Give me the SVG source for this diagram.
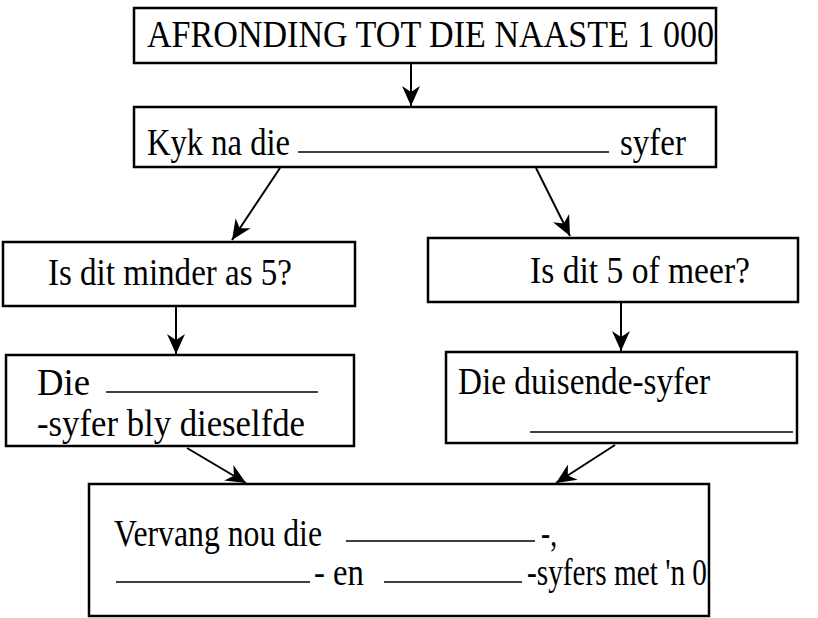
<svg xmlns="http://www.w3.org/2000/svg" width="818" height="618" viewBox="0 0 818 618">
<style>
.box{fill:#fff;stroke:#000;stroke-width:2.5}
.t{font-family:"Liberation Serif","Times New Roman",serif;font-size:38px;fill:#000}
.ul{stroke:#000;stroke-width:1.7}
.c{stroke:#000;stroke-width:2;fill:none;marker-end:url(#ah)}
</style>
<defs>
<marker id="ah" markerUnits="userSpaceOnUse" markerWidth="24" markerHeight="22" viewBox="-22 -11 24 22" refX="0" refY="0" orient="auto">
<path d="M0,0 L-20,-9 L-14,0 L-20,9 Z" fill="#000"/>
</marker>
</defs>
<rect width="818" height="618" fill="#fff"/>
<g id="connectors">
<line class="c" x1="411" y1="63" x2="411" y2="106"/>
<line class="c" x1="280" y1="168" x2="232" y2="240"/>
<line class="c" x1="536" y1="168" x2="570" y2="236"/>
<line class="c" x1="176" y1="306" x2="176" y2="354"/>
<line class="c" x1="621" y1="302" x2="621" y2="351"/>
<line class="c" x1="187" y1="448" x2="246" y2="483"/>
<line class="c" x1="615" y1="445" x2="556" y2="483"/>
</g>
<g id="title">
<rect class="box" x="134" y="8" width="582" height="55"/>
<text class="t" x="147" y="47" textLength="567" lengthAdjust="spacingAndGlyphs">AFRONDING TOT DIE NAASTE 1 000</text>
</g>
<g id="look">
<rect class="box" x="134" y="107" width="582" height="60"/>
<text class="t" x="147" y="155" textLength="143" lengthAdjust="spacingAndGlyphs">Kyk na die</text>
<line class="ul" x1="298" y1="152" x2="609" y2="152"/>
<text class="t" x="620" y="155" textLength="66" lengthAdjust="spacingAndGlyphs">syfer</text>
</g>
<g id="less">
<rect class="box" x="3" y="242" width="352" height="64"/>
<text class="t" x="48" y="285" textLength="244" lengthAdjust="spacingAndGlyphs">Is dit minder as 5?</text>
</g>
<g id="more">
<rect class="box" x="428" y="238" width="370" height="64"/>
<text class="t" x="530" y="283" textLength="220" lengthAdjust="spacingAndGlyphs">Is dit 5 of meer?</text>
</g>
<g id="same">
<rect class="box" x="6" y="355" width="348" height="91"/>
<text class="t" x="37" y="395" textLength="53" lengthAdjust="spacingAndGlyphs">Die</text>
<line class="ul" x1="106" y1="392" x2="318" y2="392"/>
<text class="t" x="37" y="436" textLength="268" lengthAdjust="spacingAndGlyphs">-syfer bly dieselfde</text>
</g>
<g id="thousand">
<rect class="box" x="446" y="352" width="351" height="91"/>
<text class="t" x="458" y="394" textLength="252" lengthAdjust="spacingAndGlyphs">Die duisende-syfer</text>
<line class="ul" x1="530" y1="432" x2="793" y2="432"/>
</g>
<g id="replace">
<rect class="box" x="89" y="484" width="620" height="132"/>
<text class="t" x="114" y="546" textLength="208" lengthAdjust="spacingAndGlyphs">Vervang nou die</text>
<line class="ul" x1="346" y1="541" x2="535" y2="541"/>
<text class="t" x="541" y="546" textLength="16" lengthAdjust="spacingAndGlyphs">-,</text>
<line class="ul" x1="116" y1="582" x2="310" y2="582"/>
<text class="t" x="314" y="585" textLength="50" lengthAdjust="spacingAndGlyphs">- en</text>
<line class="ul" x1="384" y1="582" x2="522" y2="582"/>
<text class="t" x="527" y="585" textLength="180" lengthAdjust="spacingAndGlyphs">-syfers met 'n 0</text>
</g>
</svg>
